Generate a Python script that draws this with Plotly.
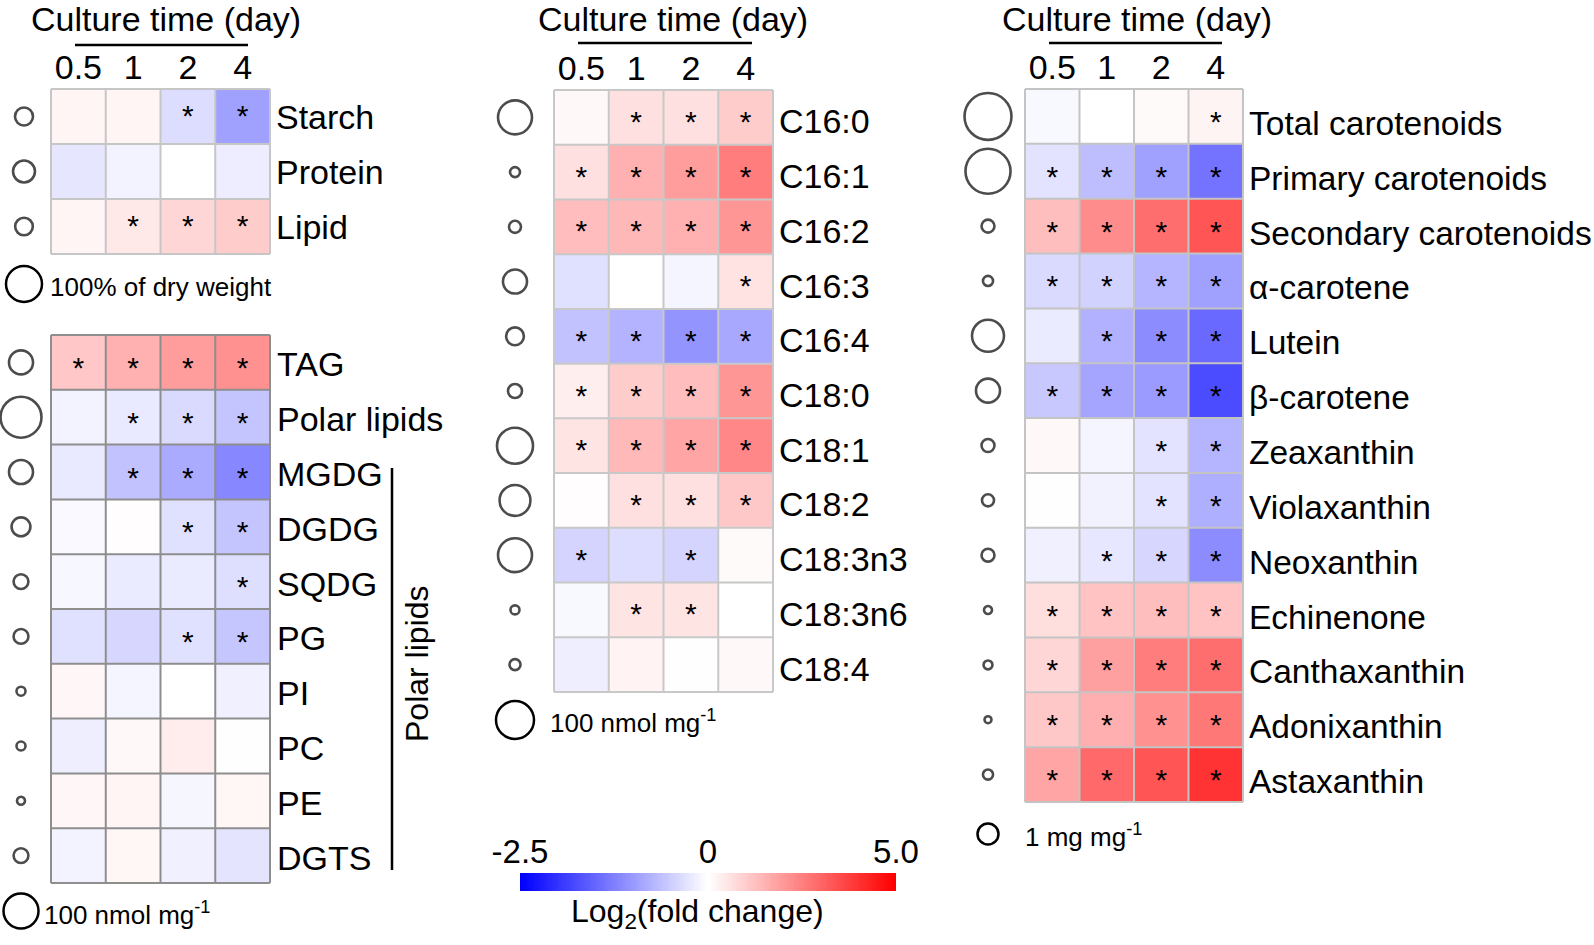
import numpy as np
import plotly.graph_objects as go

W, H = 1594, 945
FONT = "Liberation Sans, Arial, sans-serif"

days = ["0.5", "1", "2", "4"]

# ---------------- Block A: biomass composition ----------------
comp_names = ["Starch", "Protein", "Lipid"]
comp_fc = [[0.20, 0.20, -0.33, -0.93],
           [-0.25, -0.12, 0.00, -0.18],
           [0.20, 0.45, 0.80, 1.00]]
comp_sig = [[0, 0, 1, 1],
            [0, 0, 0, 0],
            [0, 1, 1, 1]]
comp_amount = [25, 37, 24]          # % of dry weight
comp_ref = 100

# ---------------- Block B: lipid classes ----------------
lip_names = ["TAG", "Polar lipids", "MGDG", "DGDG", "SQDG", "PG", "PI", "PC", "PE", "DGTS"]
lip_fc = [[1.10, 1.55, 1.95, 2.15],
          [-0.12, -0.22, -0.36, -0.58],
          [-0.22, -0.60, -0.83, -1.18],
          [-0.06, 0.03, -0.30, -0.58],
          [-0.08, -0.20, -0.20, -0.32],
          [-0.30, -0.40, -0.30, -0.56],
          [0.15, -0.10, 0.00, -0.15],
          [-0.17, 0.13, 0.35, 0.02],
          [0.15, 0.20, -0.09, 0.18],
          [-0.12, 0.17, -0.15, -0.26]]
lip_sig = [[1, 1, 1, 1],
           [0, 1, 1, 1],
           [0, 1, 1, 1],
           [0, 0, 1, 1],
           [0, 0, 0, 1],
           [0, 0, 1, 1],
           [0, 0, 0, 0],
           [0, 0, 0, 0],
           [0, 0, 0, 0],
           [0, 0, 0, 0]]
lip_amount = [47, 137, 47, 29, 18, 18, 6.6, 6.6, 5.2, 18]   # nmol mg-1
lip_ref = 100

# ---------------- Block C: fatty acids ----------------
fa_names = ["C16:0", "C16:1", "C16:2", "C16:3", "C16:4", "C18:0", "C18:1",
            "C18:2", "C18:3n3", "C18:3n6", "C18:4"]
fa_fc = [[0.13, 0.60, 0.60, 1.00],
         [0.60, 1.55, 1.95, 2.55],
         [1.30, 1.40, 1.55, 2.05],
         [-0.30, 0.00, -0.10, 0.55],
         [-0.60, -0.75, -1.05, -0.85],
         [0.33, 1.00, 1.30, 2.05],
         [0.53, 1.37, 1.76, 2.35],
         [0.03, 0.60, 0.60, 1.08],
         [-0.42, -0.33, -0.42, 0.10],
         [-0.07, 0.53, 0.53, 0.00],
         [-0.17, 0.24, 0.02, 0.14]]
fa_sig = [[0, 1, 1, 1],
          [1, 1, 1, 1],
          [1, 1, 1, 1],
          [0, 0, 0, 1],
          [1, 1, 1, 1],
          [1, 1, 1, 1],
          [1, 1, 1, 1],
          [0, 1, 1, 1],
          [1, 0, 1, 0],
          [0, 1, 1, 0],
          [0, 0, 0, 0]]
fa_amount = [80, 6.9, 10, 40, 22, 13.6, 90, 66, 80, 5.6, 8.4]   # nmol mg-1
fa_ref = 100

# ---------------- Block D: carotenoids ----------------
car_names = ["Total carotenoids", "Primary carotenoids", "Secondary carotenoids",
             "α-carotene", "Lutein", "β-carotene", "Zeaxanthin", "Violaxanthin",
             "Neoxanthin", "Echinenone", "Canthaxanthin", "Adonixanthin", "Astaxanthin"]
car_fc = [[-0.07, 0.00, 0.10, 0.22],
          [-0.27, -0.64, -0.93, -1.37],
          [1.27, 2.25, 2.85, 3.33],
          [-0.36, -0.44, -0.74, -0.93],
          [-0.20, -0.76, -1.13, -1.47],
          [-0.54, -0.88, -0.98, -1.76],
          [0.13, -0.10, -0.27, -0.74],
          [0.02, -0.13, -0.27, -0.78],
          [-0.15, -0.24, -0.40, -1.13],
          [0.65, 1.18, 1.27, 1.18],
          [0.80, 1.86, 2.55, 2.85],
          [1.08, 1.57, 2.15, 2.65],
          [1.76, 2.94, 3.33, 4.00]]
car_sig = [[0, 0, 0, 1],
           [1, 1, 1, 1],
           [1, 1, 1, 1],
           [1, 1, 1, 1],
           [0, 1, 1, 1],
           [1, 1, 1, 1],
           [0, 0, 1, 1],
           [0, 0, 1, 1],
           [0, 1, 1, 1],
           [1, 1, 1, 1],
           [1, 1, 1, 1],
           [1, 1, 1, 1],
           [1, 1, 1, 1]]
car_amount = [5.0, 4.6, 0.38, 0.23, 2.32, 1.31, 0.38, 0.33, 0.38, 0.145, 0.18, 0.11, 0.23]  # mg mg-1
car_ref = 1

ZMIN, ZMAX = -2.5, 5.0
colorscale = [[0.0, "rgb(0,0,255)"], [(0 - ZMIN) / (ZMAX - ZMIN), "rgb(255,255,255)"],
              [1.0, "rgb(255,0,0)"]]

fig = go.Figure()
shapes = []
annotations = []


def px(x):
    return x / W


def py(y):
    return 1 - y / H


def add_block(k, names, fc, sig, amount, ref, ref_d, box, grid_color, circ_x,
              show_days, star_drop, label_drop, label_gap, label_size=34):
    x0, x1, y0, y1 = box
    nr, nc = len(names), len(days)
    cw, ch = (x1 - x0) / nc, (y1 - y0) / nr
    pad = 2
    left_px = max(0, circ_x - 30)
    xa = "x" if k == 1 else f"x{k}"
    ya = "y" if k == 1 else f"y{k}"
    fig.add_trace(go.Heatmap(z=fc, x=list(range(nc)), y=list(range(nr)),
                             colorscale=colorscale, zmin=ZMIN, zmax=ZMAX,
                             showscale=False, xaxis=xa, yaxis=ya, hoverinfo="z"))
    sx, sy = [], []
    for r in range(nr):
        for c in range(nc):
            if sig[r][c]:
                sx.append(c)
                sy.append(r + star_drop / ch)
    fig.add_trace(go.Scatter(x=sx, y=sy, mode="text", text=["*"] * len(sx),
                             textfont=dict(size=30, color="black", family=FONT),
                             xaxis=xa, yaxis=ya, showlegend=False, hoverinfo="skip"))
    cx = (circ_x - x0) / cw - 0.5
    sizes = [float(ref_d * np.sqrt(a / ref)) for a in amount]
    fig.add_trace(go.Scatter(x=[cx] * nr, y=list(range(nr)), mode="markers",
                             marker=dict(symbol="circle-open", size=sizes, color="black",
                                         line=dict(width=2.6, color="black")),
                             cliponaxis=False, xaxis=xa, yaxis=ya, showlegend=False,
                             hoverinfo="skip"))
    for r, name in enumerate(names):
        annotations.append(dict(x=nc - 0.5, y=r, xref=xa, yref=ya, text=name,
                                showarrow=False, xanchor="left", yanchor="middle",
                                xshift=label_gap, yshift=-label_drop,
                                font=dict(size=label_size, family=FONT, color="black")))
    lay_x = "xaxis" if k == 1 else f"xaxis{k}"
    lay_y = "yaxis" if k == 1 else f"yaxis{k}"
    fig.update_layout(**{
        lay_x: dict(domain=[px(left_px), px(x1 + pad)],
                    range=[-0.5 - (x0 - left_px) / cw, nc - 0.5 + pad / cw],
                    anchor=ya, side="top", tickvals=list(range(nc)), ticktext=days,
                    showticklabels=show_days, ticks="", showgrid=False, zeroline=False,
                    showline=False, tickfont=dict(size=34, family=FONT, color="black"),
                    ticklabelstandoff=0, fixedrange=True, automargin=False),
        lay_y: dict(domain=[py(y1 + pad), py(y0 - pad)],
                    range=[nr - 0.5 + pad / ch, -0.5 - pad / ch],
                    anchor=xa, showticklabels=False, ticks="", showgrid=False,
                    zeroline=False, showline=False, fixedrange=True, automargin=False),
    })
    for c in range(nc + 1):
        shapes.append(dict(type="line", xref=xa, yref=ya, x0=c - 0.5, x1=c - 0.5,
                           y0=-0.5, y1=nr - 0.5, line=dict(color=grid_color, width=2),
                           layer="above"))
    for r in range(nr + 1):
        shapes.append(dict(type="line", xref=xa, yref=ya, x0=-0.5, x1=nc - 0.5,
                           y0=r - 0.5, y1=r - 0.5, line=dict(color=grid_color, width=2),
                           layer="above"))


add_block(1, comp_names, comp_fc, comp_sig, comp_amount, comp_ref, 36,
          (51, 270, 89, 254), "#c6c6c6", 24, True, 2, 0, 4)
add_block(2, lip_names, lip_fc, lip_sig, lip_amount, lip_ref, 35,
          (51, 270, 335, 883), "#8e8e8e", 21, False, 8, 2, 5)
add_block(3, fa_names, fa_fc, fa_sig, fa_amount, fa_ref, 38,
          (554, 773, 90, 692), "#c8c8c8", 515, True, 7, 4, 4)
add_block(4, car_names, car_fc, car_sig, car_amount, car_ref, 21,
          (1025, 1243, 89, 802), "#c4c4c4", 988, True, 8, 7, 4, 33.5)

# Culture time titles with underline
for cxp, typ, lx0, lx1, ly in [(166, 19, 75, 248, 45), (673, 19, 578, 752, 43),
                               (1137, 19, 1049, 1222, 43)]:
    annotations.append(dict(x=px(cxp), y=py(typ), xref="paper", yref="paper",
                            text="Culture time (day)", showarrow=False,
                            font=dict(size=34, family=FONT, color="black"),
                            xanchor="center", yanchor="middle"))
    shapes.append(dict(type="line", xref="paper", yref="paper", x0=px(lx0), x1=px(lx1),
                       y0=py(ly), y1=py(ly), line=dict(color="black", width=2.5)))

# Polar lipids bracket
shapes.append(dict(type="line", xref="paper", yref="paper", x0=px(392), x1=px(392),
                   y0=py(468), y1=py(870), line=dict(color="black", width=2.5)))
annotations.append(dict(x=px(417), y=py(664), xref="paper", yref="paper",
                        text="Polar lipids", textangle=-90, showarrow=False,
                        font=dict(size=32, family=FONT, color="black"),
                        xanchor="center", yanchor="middle"))

# Size legends
for ccx, ccy, d, ty, tx, label in [(24, 284, 36, 287, 48, "100% of dry weight"),
                                   (21, 911, 35, 913, 42, "100 nmol mg<sup>-1</sup>"),
                                   (515, 720, 38, 721, 548, "100 nmol mg<sup>-1</sup>"),
                                   (988, 834, 21, 835, 1023, "1 mg mg<sup>-1</sup>")]:
    shapes.append(dict(type="circle", xref="paper", yref="paper",
                       x0=px(ccx - d / 2), x1=px(ccx + d / 2),
                       y0=py(ccy + d / 2), y1=py(ccy - d / 2),
                       line=dict(color="black", width=2.5)))
    annotations.append(dict(x=px(tx), y=py(ty), xref="paper", yref="paper",
                            text=label, showarrow=False,
                            font=dict(size=26, family=FONT, color="black"),
                            xanchor="left", yanchor="middle"))

# Colour bar (diverging, 0 in the middle)
ncb = 200
cb_vals = list(np.linspace(ZMIN, 0, ncb // 2)) + list(np.linspace(0, ZMAX, ncb // 2))
fig.add_trace(go.Heatmap(z=[cb_vals], x=list(range(ncb)), y=[0], colorscale=colorscale,
                         zmin=ZMIN, zmax=ZMAX, showscale=False, xaxis="x5", yaxis="y5",
                         hoverinfo="skip"))
fig.update_layout(
    xaxis5=dict(domain=[px(520), px(896)], range=[-0.5, ncb - 0.5], anchor="y5",
                side="top", tickvals=[-0.5, (ncb - 1) / 2, ncb - 0.5],
                ticktext=["-2.5", "0", "5.0"], ticks="", showgrid=False, zeroline=False,
                showline=False, tickfont=dict(size=33, family=FONT, color="black"),
                ticklabelstandoff=2, fixedrange=True, automargin=False),
    yaxis5=dict(domain=[py(891), py(873)], range=[-0.5, 0.5], anchor="x5",
                showticklabels=False, ticks="", showgrid=False, zeroline=False,
                showline=False, fixedrange=True, automargin=False),
)
annotations.append(dict(x=px(697), y=py(913), xref="paper", yref="paper",
                        text="Log<sub>2</sub>(fold change)", showarrow=False,
                        font=dict(size=32, family=FONT, color="black"),
                        xanchor="center", yanchor="middle"))

fig.update_layout(width=W, height=H, margin=dict(l=0, r=0, t=0, b=0),
                  paper_bgcolor="white", plot_bgcolor="white", showlegend=False,
                  shapes=shapes, annotations=annotations,
                  font=dict(family=FONT, color="black"))

fig.write_html("out.html", config={"displayModeBar": False, "staticPlot": True},
               post_script="document.body.style.margin='0px';"
                           "document.body.style.overflow='hidden';")
